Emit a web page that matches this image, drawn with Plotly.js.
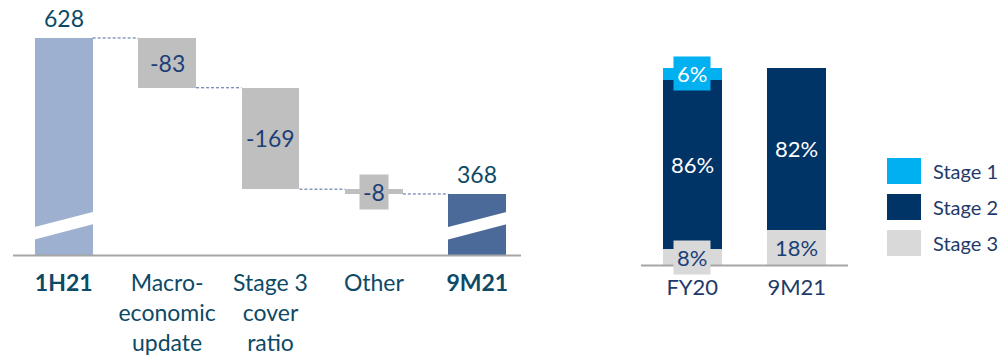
<!DOCTYPE html>
<html>
<head>
<meta charset="utf-8">
<script src="https://cdn.plot.ly/plotly-3.0.1.min.js"></script>
<style>html,body{margin:0;padding:0;background:#fff;}#chart{width:1004px;height:358px;}</style>
</head>
<body>
<div id="chart"></div>
<script>
// ---- Waterfall data (left) ----
const wfCategories = ['1H21', 'Macro-<br>economic<br>update', 'Stage 3<br>cover<br>ratio', 'Other', '9M21'];
const wfTickText = ['<b>1H21</b>', 'Macro-<br>economic<br>update', 'Stage 3<br>cover<br>ratio', 'Other', '<b>9M21</b>'];
const wfMeasures = ['absolute', 'relative', 'relative', 'relative', 'total'];
const wfValues = [628, -83, -169, -8, 368];

// ---- Stage split data (right) ----
const stageCategories = ['FY20', '9M21'];
const stageNames = ['Stage 1', 'Stage 2', 'Stage 3'];
const stage1 = [6, 0];
const stage2 = [86, 82];
const stage3 = [8, 18];

// ---- styles ----
const FONT = 'Lato, "Open Sans", sans-serif';
const colStart = '#9db0cf', colEnd = '#4b6a9a', colDelta = '#bfbfbf';
const stageColors = ['#00b0f0', '#003366', '#d9d9d9'];
const txtTeal = '#0d4a66', txtNavy = '#1c3f78';

// compute waterfall bases from data
const wfBase = [], wfLen = [], wfColors = [], tops = [], bottoms = [];
let running = 0;
wfValues.forEach((v, i) => {
  const m = wfMeasures[i];
  if (m === 'absolute' || m === 'total') {
    wfBase.push(0); wfLen.push(v); running = v;
    wfColors.push(i === 0 ? colStart : colEnd);
    tops.push(v); bottoms.push(0);
  } else {
    const nxt = running + v;
    wfBase.push(Math.min(running, nxt)); wfLen.push(Math.abs(v));
    wfColors.push(colDelta);
    tops.push(Math.max(running, nxt)); bottoms.push(Math.min(running, nxt));
    running = nxt;
  }
});

const traces = [];
traces.push({
  type: 'bar', x: wfCategories, y: wfLen, base: wfBase,
  marker: {color: wfColors, line: {width: 0}},
  xaxis: 'x', yaxis: 'y', hoverinfo: 'skip', showlegend: false
});

const stageSeries = [stage3, stage2, stage1];
const stageOrder = [2, 1, 0];
stageOrder.forEach((k, j) => {
  traces.push({
    type: 'bar', x: stageCategories, y: stageSeries[j], name: stageNames[k],
    marker: {color: stageColors[k], line: {width: 0}},
    xaxis: 'x2', yaxis: 'y2', hoverinfo: 'skip', showlegend: false
  });
});

const shapes = [];
const annotations = [];
const halfW = 0.28;

// connectors
wfValues.forEach((v, i) => {
  if (i < wfValues.length - 1) {
    const m = wfMeasures[i];
    const lvl = (m === 'absolute' || m === 'total') ? v : (v < 0 ? bottoms[i] : tops[i]);
    shapes.push({type: 'line', xref: 'x', yref: 'y', x0: i + halfW, x1: i + 1 - halfW, y0: lvl, y1: lvl,
      line: {color: '#4b6a9a', width: 1, dash: '3px,2px'}});
  }
});

// break marks on full bars (white slanted bands)
[0, wfValues.length - 1].forEach(i => {
  const xl = i - halfW - 0.02, xr = i + halfW + 0.02;
  shapes.push({type: 'path', xref: 'x', yref: 'y',
    path: `M${xl},${312} L${xr},${339} L${xr},${318.5} L${xl},${291.5} Z`,
    fillcolor: '#ffffff', line: {width: 0}});
});

// waterfall labels
wfValues.forEach((v, i) => {
  const m = wfMeasures[i];
  if (m === 'absolute' || m === 'total') {
    annotations.push({xref: 'x', yref: 'y', x: wfCategories[i], y: v, text: String(v), showarrow: false,
      yanchor: 'bottom', yshift: 4, font: {family: FONT, size: 23, color: txtTeal}});
  } else {
    const big = Math.abs(v) > 20;
    annotations.push({xref: 'x', yref: 'y', x: wfCategories[i], y: (tops[i] + bottoms[i]) / 2,
      text: String(v), showarrow: false, yanchor: 'middle',
      bgcolor: big ? 'rgba(0,0,0,0)' : colDelta, borderpad: big ? 0 : 3,
      font: {family: FONT, size: 23, color: txtNavy}});
  }
});

// stage labels
stageCategories.forEach((c, ci) => {
  let cum = 0;
  [stage3, stage2, stage1].forEach((arr, j) => {
    const k = stageOrder[j];
    const v = arr[ci];
    if (v > 0) {
      const small = v < 10;
      const dark = k === 2;
      annotations.push({xref: 'x2', yref: 'y2', x: c, y: cum + v / 2, text: v + '%', showarrow: false,
        yanchor: 'middle', bgcolor: small ? stageColors[k] : 'rgba(0,0,0,0)', borderpad: small ? 3 : 0,
        font: {family: FONT, size: 22, color: dark ? txtNavy : '#ffffff'}});
    }
    cum += v;
  });
});

// legend (manual)
stageNames.forEach((n, k) => {
  const top = 158 + k * 36;
  shapes.push({type: 'rect', xref: 'paper', yref: 'paper',
    x0: 887 / 1004, x1: 921 / 1004, y0: 1 - (top + 26) / 358, y1: 1 - top / 358,
    fillcolor: stageColors[k], line: {width: 0}});
  annotations.push({xref: 'paper', yref: 'paper', x: 931 / 1004, y: 1 - (top + 13) / 358,
    xanchor: 'left', yanchor: 'middle', text: n, showarrow: false,
    font: {family: FONT, size: 20, color: '#1f3a6a'}});
});

const layout = {
  width: 1004, height: 358,
  margin: {l: 0, r: 0, t: 0, b: 0},
  paper_bgcolor: '#ffffff', plot_bgcolor: 'rgba(0,0,0,0)',
  showlegend: false,
  bargap: 0.44,
  barmode: 'stack',
  xaxis: {domain: [12 / 1004, 529 / 1004], type: 'category', range: [-0.5, 4.5],
    tickvals: wfCategories, ticktext: wfTickText, ticks: '', showgrid: false, zeroline: false,
    showline: false, ticklabelstandoff: 12, tickfont: {family: FONT, size: 23, color: txtTeal}, fixedrange: true},
  yaxis: {domain: [1 - 255 / 358, 1], range: [266.3, 691.3], visible: false, showgrid: false, fixedrange: true},
  xaxis2: {domain: [640 / 1004, 849 / 1004], type: 'category', range: [-0.5, 1.5], anchor: 'y2',
    ticks: '', showgrid: false, zeroline: false, showline: false, ticklabelstandoff: 7,
    tickfont: {family: FONT, size: 22, color: '#1f3a6a'}, fixedrange: true},
  yaxis2: {domain: [1 - 265 / 358, 1 - 68 / 358], range: [0, 100], anchor: 'x2', visible: false, showgrid: false, fixedrange: true},
  shapes: shapes.concat([
    {type: 'line', xref: 'paper', yref: 'paper', x0: 13 / 1004, x1: 521 / 1004, y0: 1 - 255.5 / 358, y1: 1 - 255.5 / 358,
      line: {color: '#a6a6a6', width: 2}},
    {type: 'line', xref: 'paper', yref: 'paper', x0: 641 / 1004, x1: 848 / 1004, y0: 1 - 265.5 / 358, y1: 1 - 265.5 / 358,
      line: {color: '#a6a6a6', width: 2}}
  ]),
  annotations: annotations
};

Plotly.newPlot('chart', traces, layout, {staticPlot: true, displayModeBar: false});
</script>
</body>
</html>
